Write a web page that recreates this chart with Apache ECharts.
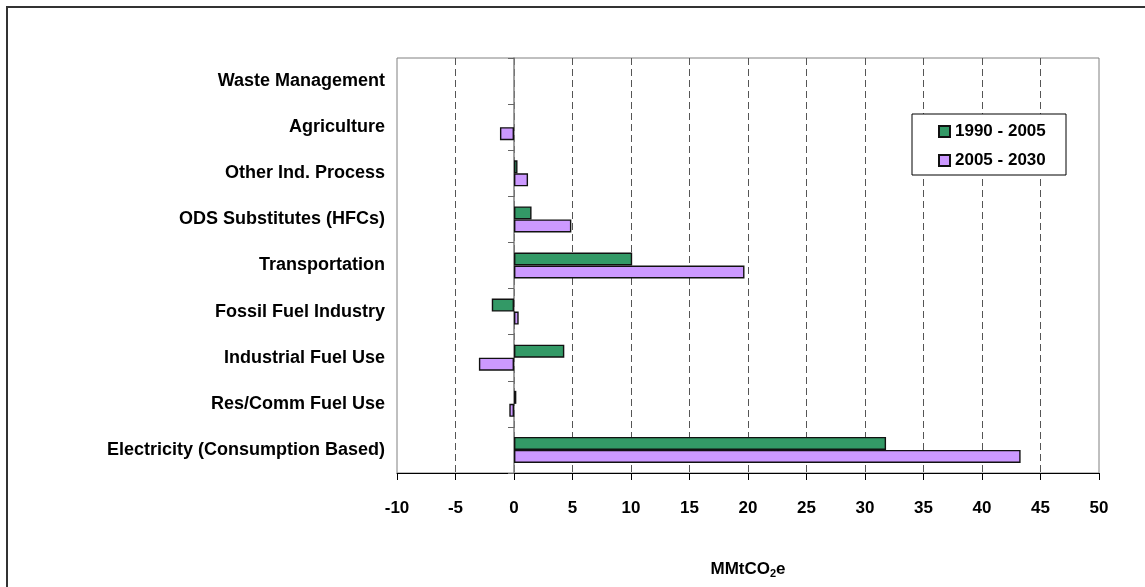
<!DOCTYPE html>
<html>
<head>
<meta charset="utf-8">
<script src="https://cdn.jsdelivr.net/npm/echarts@6/dist/echarts.min.js"></script>
<style>
  html, body { margin: 0; padding: 0; background: #fff; }
  #chart { width: 1145px; height: 587px; }
</style>
</head>
<body>
<div id="chart"></div>
<script>
// Sectors, listed bottom to top along the category axis
const categories = [
  'Electricity (Consumption Based)',
  'Res/Comm Fuel Use',
  'Industrial Fuel Use',
  'Fossil Fuel Industry',
  'Transportation',
  'ODS Substitutes (HFCs)',
  'Other Ind. Process',
  'Agriculture',
  'Waste Management'
];

// Emission changes, MMtCO2e
const change1990to2005 = [31.8, 0.2, 4.3, -1.9, 10.1, 1.5, 0.3, null, null];
const change2005to2030 = [43.3, -0.4, -3.0, 0.4, 19.7, 4.9, 1.2, -1.2, null];

const seriesNames = ['1990 - 2005', '2005 - 2030'];
const xTicks = { min: -10, max: 50, interval: 5 };

const FONT = '"Liberation Sans", Arial, sans-serif';
const chart = echarts.init(document.getElementById('chart'), null, { renderer: 'canvas' });

chart.setOption({
  animation: false,
  backgroundColor: '#ffffff',
  textStyle: { fontFamily: FONT, color: '#000' },
  grid: {
    left: 397, right: 46, top: 58, bottom: 114,
    show: true, borderColor: '#808080', borderWidth: 1, backgroundColor: 'transparent'
  },
  graphic: [
    { type: 'rect', z: 0, silent: true,
      shape: { x: 7, y: 7, width: 1200, height: 700 },
      style: { fill: 'none', stroke: '#333', lineWidth: 2 } },
    { type: 'rect', z: 5, silent: true,
      shape: { x: 912, y: 114, width: 154, height: 61 },
      style: { fill: '#fff', stroke: '#000', lineWidth: 1 } }
  ],
  legend: {
    z: 10,
    data: seriesNames,
    orient: 'vertical',
    left: 938, top: 123, padding: 0,
    itemWidth: 11, itemHeight: 11, itemGap: 12,
    icon: 'rect',
    textStyle: { fontFamily: FONT, fontWeight: 'bold', fontSize: 17, color: '#000' }
  },
  xAxis: {
    type: 'value',
    min: xTicks.min, max: xTicks.max, interval: xTicks.interval,
    axisLine: { show: true, onZero: false, lineStyle: { color: '#000', width: 1 } },
    axisTick: { show: true, length: 7, lineStyle: { color: '#000' } },
    axisLabel: { margin: 27, fontFamily: FONT, fontWeight: 'bold', fontSize: 17, color: '#000' },
    splitLine: {
      show: true, showMinLine: false, showMaxLine: false,
      lineStyle: { color: '#555', type: [7, 4], width: 1 }
    },
    name: '{a|MMtCO}{s|2}{a|e}',
    nameLocation: 'middle',
    nameGap: 87,
    nameTextStyle: {
      rich: {
        a: { fontFamily: FONT, fontWeight: 'bold', fontSize: 17, color: '#000' },
        s: { fontFamily: FONT, fontWeight: 'bold', fontSize: 11, color: '#000', padding: [8, 0, 0, 0] }
      }
    }
  },
  yAxis: [
    {
      type: 'category',
      data: categories,
      position: 'left',
      axisLine: { show: false, onZero: false },
      axisTick: { show: false },
      axisLabel: { margin: 12, fontFamily: FONT, fontWeight: 'bold', fontSize: 18, color: '#000' },
      splitLine: { show: false }
    },
    {
      // zero line with category boundary ticks
      type: 'category',
      data: categories,
      position: 'left',
      axisLine: { show: true, onZero: true, lineStyle: { color: '#808080', width: 1.5 } },
      axisTick: { show: true, length: 6, lineStyle: { color: '#666' } },
      axisLabel: { show: false },
      splitLine: { show: false }
    }
  ],
  series: [
    {
      name: seriesNames[0], type: 'bar', yAxisIndex: 0,
      data: change1990to2005,
      barWidth: 13, barGap: '0%',
      itemStyle: { color: '#339966', borderColor: '#111', borderWidth: 1.4 }
    },
    {
      name: seriesNames[1], type: 'bar', yAxisIndex: 0,
      data: change2005to2030,
      barWidth: 13, barGap: '0%',
      itemStyle: { color: '#cc99ff', borderColor: '#111', borderWidth: 1.4 }
    }
  ]
});
</script>
</body>
</html>
